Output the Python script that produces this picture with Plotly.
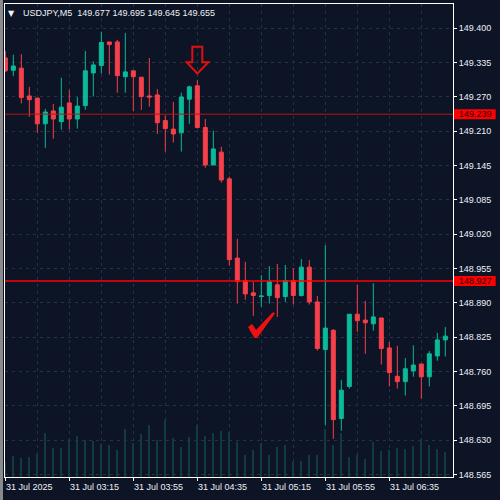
import plotly.graph_objects as go

# ---------------- data ----------------
chart_title = "USDJPY,M5  149.677 149.695 149.645 149.655"
bar_index = list(range(56))

open_ = [149.344, 149.321, 149.325, 149.273, 149.269, 149.221, 149.245, 149.225, 149.260, 149.230,
         149.255, 149.316, 149.330, 149.374, 149.374, 149.309, 149.320, 149.308, 149.273, 149.275,
         149.227, 149.211, 149.204, 149.267, 149.292, 149.214, 149.144, 149.168, 149.118, 148.970,
         148.928, 148.905, 148.898, 148.900, 148.920, 148.898, 148.928, 148.900, 148.953, 148.888,
         148.799, 148.835, 148.670, 148.730, 148.865, 148.854, 148.847, 148.858, 148.802, 148.749,
         148.739, 148.759, 148.772, 148.748, 148.787, 148.817]
high = [149.357, 149.350, 149.351, 149.290, 149.269, 149.249, 149.258, 149.307, 149.284, 149.271,
        149.357, 149.338, 149.393, 149.374, 149.378, 149.391, 149.320, 149.308, 149.344, 149.286,
        149.237, 149.262, 149.279, 149.292, 149.303, 149.230, 149.208, 149.178, 149.122, 149.006,
        148.963, 148.925, 148.938, 148.955, 148.959, 148.957, 148.951, 148.968, 148.966, 148.899,
        148.994, 148.837, 148.742, 148.865, 148.920, 148.890, 148.923, 148.858, 148.813, 148.806,
        148.783, 148.807, 148.772, 148.796, 148.830, 148.841]
low = [149.318, 149.310, 149.259, 149.234, 149.204, 149.176, 149.193, 149.210, 149.210, 149.212,
       149.247, 149.272, 149.315, 149.313, 149.279, 149.279, 149.245, 149.247, 149.253, 149.202,
       149.169, 149.186, 149.169, 149.221, 149.212, 149.139, 149.144, 149.111, 148.956, 148.885,
       148.892, 148.862, 148.879, 148.885, 148.860, 148.888, 148.883, 148.898, 148.883, 148.797,
       148.658, 148.632, 148.647, 148.726, 148.832, 148.791, 148.834, 148.771, 148.730, 148.726,
       148.713, 148.748, 148.707, 148.730, 148.778, 148.786]
close = [149.320, 149.329, 149.270, 149.266, 149.221, 149.243, 149.230, 149.252, 149.230, 149.254,
         149.320, 149.331, 149.373, 149.369, 149.311, 149.318, 149.309, 149.272, 149.271, 149.223,
         149.212, 149.202, 149.271, 149.290, 149.214, 149.144, 149.174, 149.116, 148.967, 148.926,
         148.903, 148.900, 148.899, 148.926, 148.896, 148.928, 148.900, 148.953, 148.888, 148.801,
         148.839, 148.668, 148.723, 148.865, 148.853, 148.849, 148.860, 148.801, 148.756, 148.739,
         148.763, 148.770, 148.748, 148.791, 148.817, 148.824]
tick_volume = [75, 105, 95, 100, 115, 220, 145, 145, 190, 205,
               185, 180, 165, 160, 135, 240, 170, 215, 260, 185,
               285, 195, 150, 200, 260, 205, 220, 230, 225, 175,
               110, 135, 170, 110, 150, 160, 75, 80, 110, 110,
               240, 160, 220, 100, 110, 90, 175, 130, 135, 145,
               140, 155, 190, 160, 140, 125]

x_tick_index = [0, 8, 16, 24, 32, 40, 48]
x_tick_labels = ["31 Jul 2025", "31 Jul 03:15", "31 Jul 03:55", "31 Jul 04:35",
                 "31 Jul 05:15", "31 Jul 05:55", "31 Jul 06:35"]
y_tick_labels = ["148.565", "148.630", "148.695", "148.760", "148.825", "148.890", "148.955",
                 "149.020", "149.085", "149.145", "149.210", "149.270", "149.335", "149.400"]
price_scale_low, price_scale_high = 148.565, 149.400
bid_line = 149.239
level_line = 148.927

# ---------------- style ----------------
BG = "#0c1425"
GREEN = "#0bb99b"
RED = "#f5404a"
VOL = "#123b40"
GRID = "#25304a"
TXT = "#eef1f5"
FONT = "Liberation Sans, Arial, sans-serif"

y_min, y_max = 148.5607, 149.4449
x_min, x_max = -0.04, 55.96
n_ticks = len(y_tick_labels)
y_tickvals = [price_scale_low + i * (price_scale_high - price_scale_low) / (n_ticks - 1) for i in range(n_ticks)]

def paper_y(p):
    return (p - y_min) / (y_max - y_min)

fig = go.Figure()
fig.add_trace(go.Bar(x=bar_index, y=tick_volume, yaxis="y", marker_color=VOL,
                     marker_line_width=0, width=0.13, hoverinfo="skip", showlegend=False))
fig.add_trace(go.Candlestick(
    x=bar_index, open=open_, high=high, low=low, close=close, yaxis="y2",
    increasing=dict(line=dict(color=GREEN, width=1), fillcolor=GREEN),
    decreasing=dict(line=dict(color=RED, width=1), fillcolor=RED),
    whiskerwidth=0, showlegend=False))

shapes = []
# grey window strip on the far left
shapes.append(dict(type="rect", xref="paper", yref="paper", x0=-5 / 448, x1=-2 / 448,
                   y0=-30 / 473, y1=1 + 10 / 473, fillcolor="#8a8a8a", line=dict(width=0), layer="above"))
# horizontal price lines
shapes.append(dict(type="line", xref="paper", yref="y2", x0=0, x1=1, y0=bid_line, y1=bid_line,
                   line=dict(color="#b81616", width=1)))
shapes.append(dict(type="line", xref="paper", yref="y2", x0=0, x1=1, y0=level_line, y1=level_line,
                   line=dict(color="#ff0000", width=1.6)))
# price boxes on the axis
for p in (bid_line, level_line):
    shapes.append(dict(type="rect", xref="paper", yref="paper", x0=449 / 448, x1=490.7 / 448,
                       y0=paper_y(p) - 5 / 473, y1=paper_y(p) + 5 / 473,
                       fillcolor="#ff0000", line=dict(width=0)))
# down arrow drawing
shapes.append(dict(type="path", xref="x", yref="y2",
                   path="M 23.375,149.365 L 24.625,149.365 L 24.625,149.336 L 25.375,149.336 "
                        "L 24,149.315 L 22.675,149.336 L 23.375,149.336 Z",
                   line=dict(color="#e01010", width=2), fillcolor="rgba(0,0,0,0)"))
# check mark drawing
shapes.append(dict(type="path", xref="x", yref="y2",
                   path="M 30.4,148.8411 L 30.8375,148.8458 L 31.3375,148.8345 L 33.4625,148.8682 "
                        "L 33.65,148.8663 L 31.4625,148.8215 L 31.15,148.8215 Z",
                   line=dict(color="#ee1111", width=1), fillcolor="#ee1111"))

annotations = []
annotations.append(dict(text="▼", xref="paper", yref="paper", x=0, y=1, xshift=6.7, yshift=-9.5,
                        xanchor="center", yanchor="middle", showarrow=False,
                        font=dict(family="DejaVu Sans", size=8, color=TXT)))
annotations.append(dict(text=chart_title, xref="paper", yref="paper", x=0, y=1, xshift=15.5, yshift=-9.3,
                        xanchor="left", yanchor="middle", showarrow=False,
                        font=dict(family=FONT, size=9, color=TXT)))
for k, lab in zip(x_tick_index, x_tick_labels):
    annotations.append(dict(text=lab, xref="x", yref="paper", x=k, y=0, xshift=-1.5, yshift=-9.5,
                            xanchor="left", yanchor="middle", showarrow=False,
                            font=dict(family=FONT, size=9, color=TXT)))
for p in (bid_line, level_line):
    annotations.append(dict(text=f"{p:.3f}", xref="paper", yref="y2", x=470 / 448, y=p,
                            xanchor="center", yanchor="middle", showarrow=False,
                            font=dict(family=FONT, size=9, color="#2a0000")))

fig.update_layout(
    width=500, height=500,
    margin=dict(l=5, r=47, t=4, b=23),
    paper_bgcolor=BG, plot_bgcolor=BG,
    boxgap=0.5, boxgroupgap=0,
    showlegend=False,
    shapes=shapes, annotations=annotations,
    xaxis=dict(range=[x_min, x_max], rangeslider=dict(visible=False), showline=True, mirror=True,
               linecolor="#ffffff", linewidth=1, zeroline=False,
               tickmode="array", tickvals=x_tick_index, ticks="outside", ticklen=3, tickcolor="#ffffff",
               showticklabels=False, showgrid=True, gridcolor=GRID, griddash="3px,4px", gridwidth=1,
               minor=dict(tickvals=[k + 4 for k in x_tick_index], showgrid=True, gridcolor=GRID,
                          griddash="3px,4px", ticks="")),
    yaxis=dict(range=[0, 2365], showline=True, mirror=True, linecolor="#ffffff", linewidth=1,
               showgrid=False, zeroline=False, showticklabels=False, ticks=""),
    yaxis2=dict(range=[y_min, y_max], overlaying="y", side="right", showline=False, zeroline=False,
                tickmode="array", tickvals=y_tickvals, ticktext=y_tick_labels,
                ticks="outside", ticklen=3, tickcolor="#ffffff",
                tickfont=dict(family=FONT, size=9, color=TXT),
                showgrid=True, gridcolor=GRID, griddash="3px,4px", gridwidth=1),
)

fig.write_html("out.html")
